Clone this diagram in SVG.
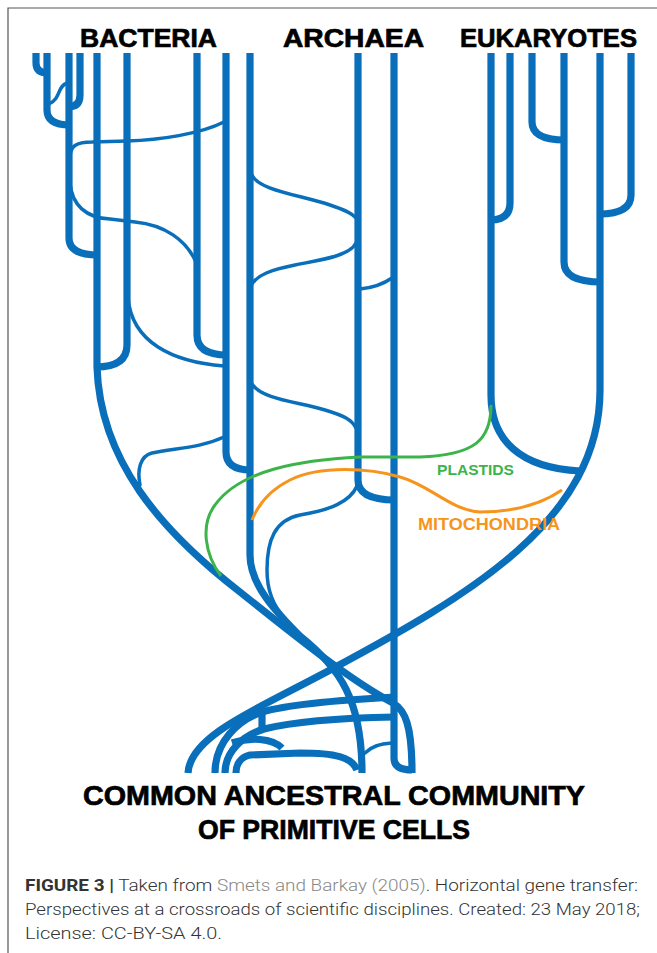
<svg xmlns="http://www.w3.org/2000/svg" width="657" height="953" viewBox="0 0 657 953">
<style>
.thick{fill:none;stroke:#0a6fba;stroke-width:7.2;stroke-linecap:butt;stroke-linejoin:round}
.thin{fill:none;stroke:#0a6fba;stroke-width:3.5;stroke-linecap:round}
.green{fill:none;stroke:#3cb44a;stroke-width:3}
.orange{fill:none;stroke:#f7941d;stroke-width:3}
.title{font-family:"Liberation Sans",Arial,sans-serif;font-weight:bold;fill:#000;stroke:#000;stroke-width:0.7}
.lab{font-family:"Liberation Sans",Arial,sans-serif;font-weight:bold}
.cap{font-family:Roboto,"Liberation Sans",Arial,sans-serif;font-weight:300;font-size:16px;fill:#333}
</style>
<rect width="657" height="953" fill="#fff"/>
<path d="M8 953 V8 H657" fill="none" stroke="#555" stroke-width="1.2"/>

<g id="titles">
<text class="title" x="80" y="47" font-size="26" textLength="137" lengthAdjust="spacingAndGlyphs">BACTERIA</text>
<text class="title" x="283" y="47" font-size="26" textLength="141" lengthAdjust="spacingAndGlyphs">ARCHAEA</text>
<text class="title" x="460" y="47" font-size="26" textLength="177" lengthAdjust="spacingAndGlyphs">EUKARYOTES</text>
</g>

<g id="connectors">
<g id="bacteria">
<path class="thick" d="M36 53 V63 Q36 73 48 73"/>
<path class="thick" d="M47 53 V110 Q47 125 70 125"/>
<path class="thick" d="M80 53 V95 Q80 107 68 107"/>
<path class="thick" d="M69 53 V238 Q69 255 98 255"/>
<path class="thick" d="M127 53 V345 Q127 367 96 367"/>
<path class="thick" d="M197 53 V335 Q197 355 227 355"/>
<path class="thick" d="M226 53 V452 Q226 470 251 470"/>
<path class="thick" d="M97 53 V367 C100 460 160 530 240 592 C300 640 350 680 393 703 C405 710 412 725 412 773"/>
<path class="thin" d="M67 83 C57 86 61 99 49 104"/>
<path class="thin" d="M70 158 C70 146 76 142 92 142 L127 141 C160 140 200 134 224 122"/>
<path class="thin" d="M70 183 C72 205 86 218 110 219 L135 222 C165 225 186 240 196 262"/>
<path class="thin" d="M128 298 C132 342 172 362 224 366"/>
<path class="thin" d="M224 437 C200 448 176 448 152 453 C140 456 137 470 140 485"/>
</g>
<g id="archaea">
<path class="thick" d="M250 53 V555 C250 585 276 612 300 636 C340 668 362 700 362 773"/>
<path class="thick" d="M358 53 V480 Q358 500 395 500"/>
<path class="thick" d="M394 53 V758 Q394 770 412 770"/>
<path class="thin" d="M252 175 C258 190 300 195 330 205 C345 210 352 213 356 218"/>
<path class="thin" d="M356 243 C350 256 320 260 295 265 C270 270 258 275 252 284"/>
<path class="thin" d="M360 289 C370 288 382 285 392 278"/>
<path class="thin" d="M252 384 C262 400 300 402 325 410 C345 416 352 420 356 428"/>
<path class="thin" d="M357 486 C350 502 330 510 300 515 C275 520 267 540 267 570 C267 590 272 605 285 618"/>
</g>
<g id="eukaryotes">
<path class="thick" d="M491 53 V395 C491 440 520 468 580 471"/>
<path class="thick" d="M510 53 V203 Q510 220 490 220"/>
<path class="thick" d="M532 53 V122 Q532 140 565 140"/>
<path class="thick" d="M564 53 V262 Q564 282 601 282"/>
<path class="thick" d="M631 53 V195 Q631 214 599 214"/>
<path class="thick" d="M600 53 V390 C600 520 470 595 330 670 C260 708 190 735 188 773"/>
</g>
<g id="community">
<path class="thick" d="M395 697 C340 700 290 704 262 712 C238 720 215 742 215 773"/>
<path class="thick" d="M395 717 C340 718 292 722 264 729 C242 736 225 752 225 773"/>
<path class="thick" d="M262 712 V729"/>
<path class="thick" d="M357 770 C352 757 335 753 300 753 L250 755 C241 757 236 764 236 773"/>
<path class="thick" d="M232 743 C250 737 272 738 282 748"/>
<path class="thin" d="M365 753 C372 746 380 744 392 743"/>
</g>
<g id="transfers">
<path class="green" d="M491 405 C491 440 475 455 420 457 L360 457 C300 460 240 470 215 505 C200 525 205 555 221 576"/>
<path class="orange" d="M562 490 C540 505 510 512 480 512 C450 510 430 485 400 477 C370 468 320 465 290 480 C270 490 258 505 252 520"/>
</g>
</g>

<g id="labels">
<text class="lab" x="437" y="475" font-size="15.5" fill="#3cb44a" textLength="77" lengthAdjust="spacingAndGlyphs">PLASTIDS</text>
<text class="lab" x="418" y="530" font-size="16" fill="#f7941d" textLength="142" lengthAdjust="spacingAndGlyphs">MITOCHONDRIA</text>
<text class="title" x="83" y="805" font-size="28" textLength="502" lengthAdjust="spacingAndGlyphs">COMMON ANCESTRAL COMMUNITY</text>
<text class="title" x="198" y="839" font-size="28" textLength="272" lengthAdjust="spacingAndGlyphs">OF PRIMITIVE CELLS</text>
</g>

<g id="caption">
<text class="cap" x="25" y="891" textLength="613" lengthAdjust="spacingAndGlyphs"><tspan font-weight="bold">FIGURE 3 |</tspan> Taken from <tspan fill="#888">Smets and Barkay (2005)</tspan>. Horizontal gene transfer:</text>
<text class="cap" x="25" y="915" textLength="615" lengthAdjust="spacingAndGlyphs">Perspectives at a crossroads of scientific disciplines. Created: 23 May 2018;</text>
<text class="cap" x="25" y="939" textLength="197" lengthAdjust="spacingAndGlyphs">License: CC-BY-SA 4.0.</text>
</g>
</svg>
